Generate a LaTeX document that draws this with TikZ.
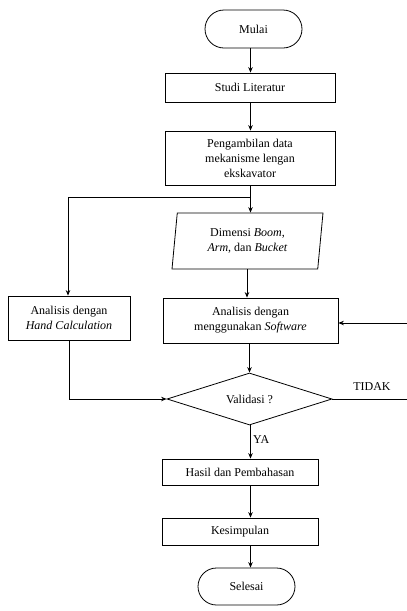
\documentclass[tikz,border=0pt]{standalone}
\usepackage{fontspec}
\setmainfont{Liberation Serif}
\usetikzlibrary{shapes.geometric,shapes.misc,arrows.meta}
\begin{document}
\begin{tikzpicture}[x=1pt,y=-1pt,
  every node/.style={font=\rmfamily\fontsize{12}{15}\selectfont, align=center, inner sep=0pt},
  boxst/.style={draw, line width=0.8pt, rectangle},
  termst/.style={draw, line width=0.8pt, rounded rectangle},
  iost/.style={draw, line width=0.8pt, trapezium, trapezium left angle=78, trapezium right angle=102, trapezium stretches body},
  decst/.style={draw, line width=0.8pt, diamond, aspect=3},
  arr/.style={line width=0.8pt, -{Stealth[length=5.5pt,width=4.5pt]}},
  ln/.style={line width=0.8pt}]
\useasboundingbox (0,0) rectangle (407,611);
\node[termst, minimum width=97pt, minimum height=38pt] (mulai) at (253.5,29) {Mulai};
\node[boxst, minimum width=170pt, minimum height=29pt] (studi) at (250,87.5) {Studi Literatur};
\node[boxst, minimum width=170pt, minimum height=54pt] (ambil) at (250,158) {Pengambilan data\\mekanisme lengan\\ekskavator};
\node[iost, minimum width=151pt, minimum height=56pt] (dim) at (247.5,241) {Dimensi \textit{Boom},\\\textit{Arm}, dan \textit{Bucket}};
\node[boxst, minimum width=122pt, minimum height=44pt] (hand) at (69,318) {Analisis dengan\\\textit{Hand Calculation}};
\node[boxst, minimum width=175pt, minimum height=45pt] (soft) at (250.5,320.5) {Analisis dengan\\menggunakan \textit{Software}};
\node[decst, minimum width=165pt, minimum height=52pt] (val) at (249.5,399) {Validasi ?};
\node[boxst, minimum width=156pt, minimum height=26pt] (hasil) at (240,472) {Hasil dan Pembahasan};
\node[boxst, minimum width=156pt, minimum height=27pt] (kes) at (240,531.5) {Kesimpulan};
\node[termst, minimum width=97pt, minimum height=37pt] (selesai) at (246.5,586.5) {Selesai};
\node (tidak) at (372,387) {TIDAK};
\node[anchor=west] (ya) at (253,440) {YA};
\coordinate (ax) at (250.5,0);
\coordinate (br) at (250.5,197);
\coordinate (brl) at (68,197);
\coordinate (rin) at (407,323);
\coordinate (rout) at (407,399);
\coordinate (lcorner) at (69,399);
\draw[arr] (mulai.south -| ax) -- (studi.north -| ax);
\draw[arr] (studi.south -| ax) -- (ambil.north -| ax);
\draw[ln] (ambil.south -| ax) -- (br);
\draw[arr] (br) -- (dim.north -| ax);
\draw[arr] (br) -- (brl) -- (hand.north -| brl);
\draw[arr] (dim.south -| 247,0) -- (soft.north -| 247,0);
\draw[arr] (rin) -- (soft.east |- rin);
\draw[arr] (soft.south -| 249.5,0) -- (val.north);
\draw[arr] (hand.south) -- (lcorner) -- (val.west);
\draw[ln] (val.east) -- (rout);
\draw[arr] (val.south -| ax) -- (hasil.north -| ax);
\draw[arr] (hasil.south -| ax) -- (kes.north -| ax);
\draw[arr] (kes.south -| ax) -- (selesai.north -| ax);
\end{tikzpicture}
\end{document}
